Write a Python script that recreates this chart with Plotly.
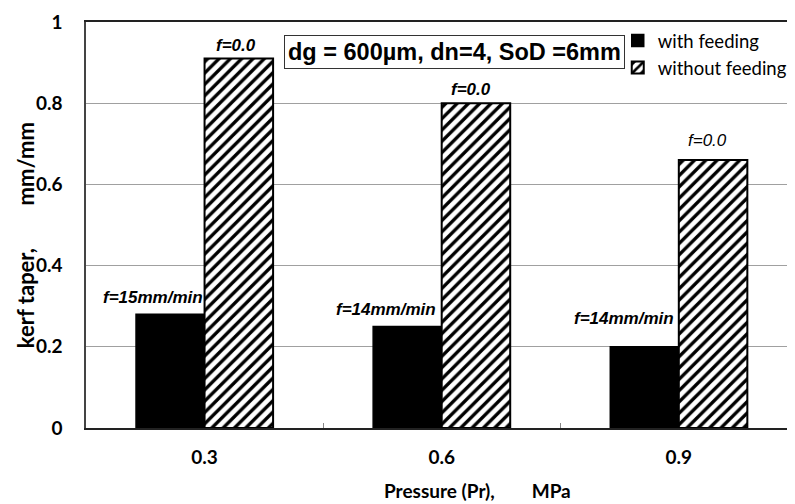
import plotly.graph_objects as go

categories = ["0.3", "0.6", "0.9"]
with_feeding = [0.28, 0.25, 0.20]
without_feeding = [0.91, 0.80, 0.66]
with_labels = ["f=15mm/min", "f=14mm/min", "f=14mm/min"]
without_labels = ["f=0.0", "f=0.0", "f=0.0"]
y_ticks = [0, 0.2, 0.4, 0.6, 0.8, 1]
y_tick_text = ["0", "0.2", "0.4", "0.6", "0.8", "1"]

fig = go.Figure()
fig.add_trace(go.Bar(
    x=categories, y=with_feeding, name="with feeding",
    marker=dict(color="black", line=dict(color="black", width=1.5)),
    legendgroup="a",
))
fig.add_trace(go.Bar(
    x=categories, y=without_feeding, name="without feeding",
    marker=dict(color="white", line=dict(color="black", width=2),
                pattern=dict(shape="/", fgcolor="black", bgcolor="white",
                             size=8, solidity=0.42, fillmode="replace")),
    legendgroup="b",
))

ann_font = dict(family="Liberation Sans, Arial", size=17, color="black",
                style="italic", weight="bold")
w_shift = [(0, 5), (-4, 6), (-3, 17)]
for i, (c, v, t) in enumerate(zip(categories, with_feeding, with_labels)):
    dx, dy = w_shift[i]
    fig.add_annotation(x=i, y=v, xref="x", yref="y", text=t, showarrow=False,
                       xanchor="right", yanchor="bottom", xshift=dx, yshift=dy,
                       font=ann_font)
wo_shift = [(-3, 2, "bold"), (-5, 2, "bold"), (-6, 8, "normal")]
for i, (c, v, t) in enumerate(zip(categories, without_feeding, without_labels)):
    dx, dy, wt = wo_shift[i]
    f = dict(ann_font)
    f["weight"] = wt
    fig.add_annotation(x=i + 0.1445, y=v, xref="x", yref="y", text=t, showarrow=False,
                       xanchor="center", yanchor="bottom", xshift=dx, yshift=dy,
                       font=f)

fig.add_annotation(x=0.52, y=0.925, xref="paper", yref="paper",
                   xanchor="center", yanchor="middle",
                   text="dg = 600µm, dn=4, SoD =6mm", showarrow=False,
                   font=dict(family="Liberation Sans, Arial", size=23.5, color="black", weight="bold"),
                   bordercolor="#333", borderwidth=1, borderpad=3, bgcolor="white")

# axis titles as annotations (positioned like the reference)
fig.add_annotation(x=0.552, y=-0.155, xref="paper", yref="paper",
                   text="Pressure (Pr),&nbsp;&nbsp;&nbsp;&nbsp;&nbsp;&nbsp;&nbsp;&nbsp;MPa",
                   showarrow=False, xanchor="center", yanchor="middle",
                   font=dict(family="Lato", size=19, color="black", weight="bold"))
fig.add_annotation(x=-0.086, y=0.475, xref="paper", yref="paper",
                   text="kerf taper,&nbsp;&nbsp;&nbsp;&nbsp;&nbsp;&nbsp;&nbsp;&nbsp;mm/mm",
                   showarrow=False, textangle=-90, xanchor="center", yanchor="middle",
                   font=dict(family="Lato", size=22, color="black", weight="bold"))

# page body has an 8px margin: figure is sized/offset to compensate
fig.update_layout(
    width=787, height=496,
    margin=dict(l=78, r=0, t=14, b=76, autoexpand=False),
    paper_bgcolor="white", plot_bgcolor="white",
    barmode="group", bargap=0.422, bargroupgap=0,
    showlegend=True,
    legend=dict(x=0.75, y=1.0, xanchor="left", yanchor="top",
                font=dict(family="Lato", size=18.5, color="black"),
                bgcolor="rgba(0,0,0,0)", itemwidth=30, tracegroupgap=11,
                traceorder="normal"),
    xaxis=dict(range=[-0.5, 2.49], showline=True, linecolor="#222", linewidth=2,
               mirror=True, showgrid=False, ticks="inside", tickson="boundaries",
               ticklen=5, tickcolor="#888", automargin=False,
               tickfont=dict(family="Lato", size=19, color="black", weight="bold"),
               ticklabelstandoff=11),
    yaxis=dict(range=[0, 1], tickvals=y_ticks, ticktext=y_tick_text,
               showline=True, linecolor="#444", linewidth=1.5, automargin=False,
               showgrid=True, gridcolor="#a0a0a0", gridwidth=1, zeroline=False,
               tickfont=dict(family="Lato", size=19, color="black", weight="bold"),
               ticklabelstandoff=18),
)

fig.write_html("out.html")
